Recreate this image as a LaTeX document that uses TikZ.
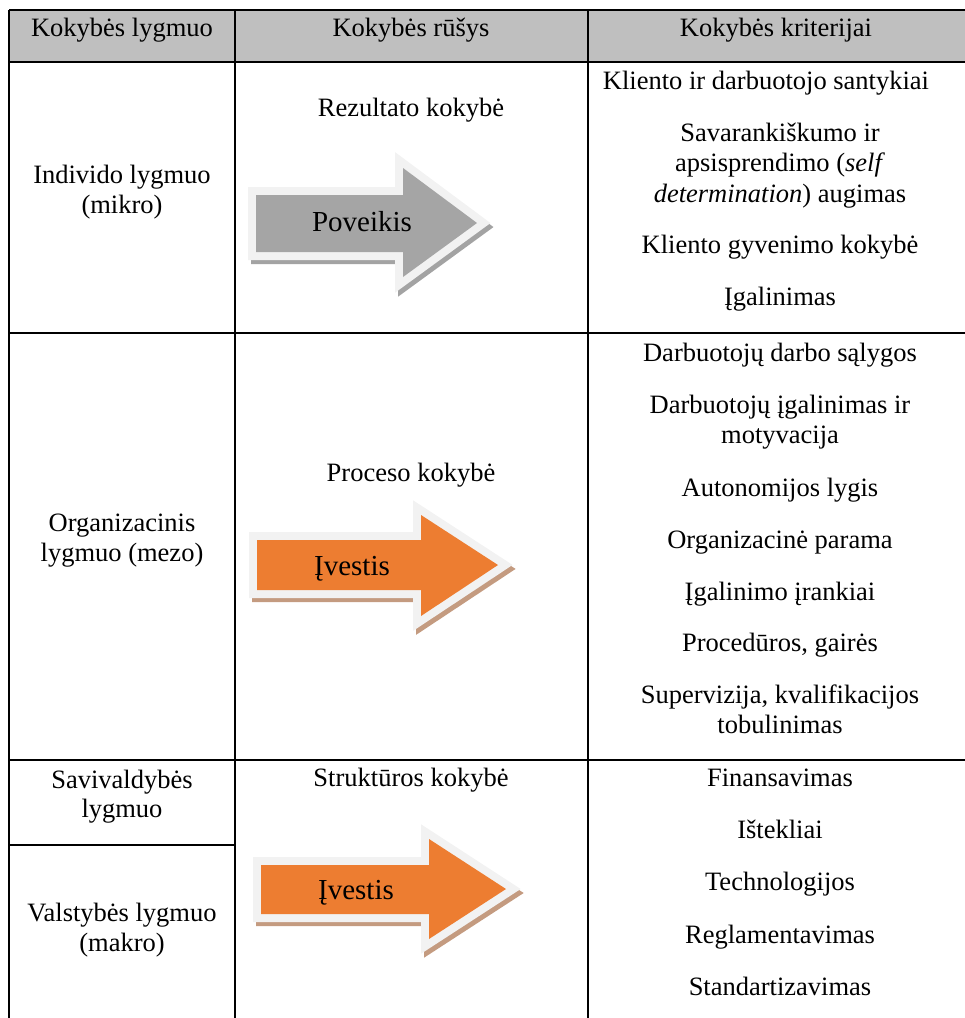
\documentclass[tikz,border=0pt]{standalone}
\usepackage{fontspec}
\setmainfont{Liberation Serif}
\usepackage{tikz}
\definecolor{headgray}{HTML}{BFBFBF}
\definecolor{arrgray}{HTML}{A5A5A5}
\definecolor{arrorange}{HTML}{ED7D31}
\definecolor{arrrim}{HTML}{F2F2F2}
\definecolor{shadegray}{HTML}{A3A3A3}
\definecolor{shadebrown}{HTML}{C49B80}

\begin{document}
\begin{tikzpicture}[x=1pt, y=-1pt,
    txt/.style={anchor=base, inner sep=0pt, font=\fontsize{26.5}{30}\selectfont},
    arrtxt/.style={anchor=base, inner sep=0pt, font=\fontsize{29}{33}\selectfont},
    rule/.style={line width=2.6pt},
    rim/.style={draw=arrrim, line width=16pt, line join=miter},
    shade/.style={line width=16pt, line join=miter, shift={(3,4)}}]
        \useasboundingbox (0,0) rectangle (965,1018);
        \clip (0,0) rectangle (965,1018);
        % header
        \fill [headgray] (9,10) rectangle (980,62);
        \draw [rule] (9,10) -- (980,10);
        \draw [rule] (9,62) -- (980,62);
        \draw [rule] (9,333) -- (980,333);
        \draw [rule] (9,760) -- (980,760);
        \draw [rule] (9,845) -- (235,845);
        \draw [rule] (9,10) -- (9,1030);
        \draw [rule] (235,10) -- (235,1030);
        \draw [rule] (588,10) -- (588,1030);
        \node [txt] (h1) at (122,36) {Kokybės lygmuo};
        \node [txt] (h2) at (411,36) {Kokybės rūšys};
        \node [txt] (h3) at (776,36) {Kokybės kriterijai};
        % arrows
        \draw [shade, draw=shadegray, fill=shadegray] (256,195) -- (403,195) -- (403,168) -- (477,223) -- (403,277) -- (403,252) -- (256,252) -- cycle;
        \draw [rim] (256,195) -- (403,195) -- (403,168) -- (477,223) -- (403,277) -- (403,252) -- (256,252) -- cycle;
        \fill [arrgray] (256,195) -- (403,195) -- (403,168) -- (477,223) -- (403,277) -- (403,252) -- (256,252) -- cycle;
        \draw [shade, draw=shadebrown, fill=shadebrown] (257,540) -- (421,540) -- (421,515) -- (498,565) -- (421,616) -- (421,590) -- (257,590) -- cycle;
        \draw [rim] (257,540) -- (421,540) -- (421,515) -- (498,565) -- (421,616) -- (421,590) -- (257,590) -- cycle;
        \fill [arrorange] (257,540) -- (421,540) -- (421,515) -- (498,565) -- (421,616) -- (421,590) -- (257,590) -- cycle;
        \draw [shade, draw=shadebrown, fill=shadebrown] (261,865) -- (429,865) -- (429,839) -- (506,889) -- (429,939) -- (429,914) -- (261,914) -- cycle;
        \draw [rim] (261,865) -- (429,865) -- (429,839) -- (506,889) -- (429,939) -- (429,914) -- (261,914) -- cycle;
        \fill [arrorange] (261,865) -- (429,865) -- (429,839) -- (506,889) -- (429,939) -- (429,914) -- (261,914) -- cycle;
        \node [arrtxt] (a1) at (362,231) {Poveikis};
        \node [arrtxt] (a2) at (352,575) {Įvestis};
        \node [arrtxt] (a3) at (356,899) {Įvestis};
        % first column
        \node [txt] (l1a) at (122,183) {Individo lygmuo};
        \node [txt] (l1b) at (122,213) {(mikro)};
        \node [txt] (l2a) at (122,531) {Organizacinis};
        \node [txt] (l2b) at (122,561) {lygmuo (mezo)};
        \node [txt] (l3a) at (122,788) {Savivaldybės};
        \node [txt] (l3b) at (122,817) {lygmuo};
        \node [txt] (l4a) at (122,921) {Valstybės lygmuo};
        \node [txt] (l4b) at (122,951) {(makro)};
        % second column
        \node [txt] (r1) at (411,116) {Rezultato kokybė};
        \node [txt] (r2) at (411,481) {Proceso kokybė};
        \node [txt] (r3) at (411,786) {Struktūros kokybė};
        % third column
        \node [txt] (k1) at (766,89) {Kliento ir darbuotojo santykiai};
        \node [txt] (k2a) at (780,141) {Savarankiškumo ir};
        \node [txt] (k2b) at (780,171) {apsisprendimo (\textit{self}};
        \node [txt] (k2c) at (780,202) {\textit{determination}) augimas};
        \node [txt] (k3) at (780,253) {Kliento gyvenimo kokybė};
        \node [txt] (k4) at (780,305) {Įgalinimas};
        \node [txt] (k5) at (780,361) {Darbuotojų darbo sąlygos};
        \node [txt] (k6a) at (780,413) {Darbuotojų įgalinimas ir};
        \node [txt] (k6b) at (780,443) {motyvacija};
        \node [txt] (k7) at (780,496) {Autonomijos lygis};
        \node [txt] (k8) at (780,548) {Organizacinė parama};
        \node [txt] (k9) at (780,600) {Įgalinimo įrankiai};
        \node [txt] (k10) at (780,651) {Procedūros, gairės};
        \node [txt] (k11a) at (780,703) {Supervizija, kvalifikacijos};
        \node [txt] (k11b) at (780,733) {tobulinimas};
        \node [txt] (k12) at (780,786) {Finansavimas};
        \node [txt] (k13) at (780,838) {Ištekliai};
        \node [txt] (k14) at (780,890) {Technologijos};
        \node [txt] (k15) at (780,943) {Reglamentavimas};
        \node [txt] (k16) at (780,995) {Standartizavimas};
    \end{tikzpicture}
\end{document}
